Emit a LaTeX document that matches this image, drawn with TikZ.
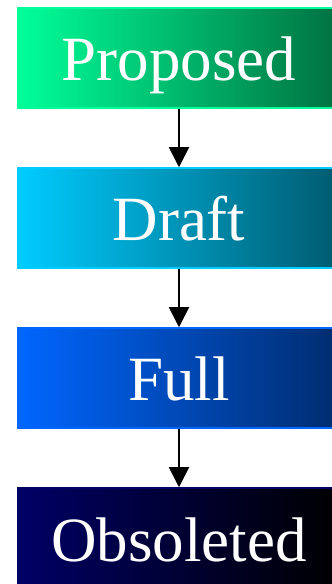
\documentclass[tikz,border=0pt]{standalone}
\usepackage{fontspec}
\setmainfont{Liberation Serif}
\usetikzlibrary{arrows.meta}

\definecolor{propL}{HTML}{00FF99}
\definecolor{propR}{HTML}{007040}
\definecolor{draftL}{HTML}{00CCFF}
\definecolor{draftR}{HTML}{005A6E}
\definecolor{fullL}{HTML}{0066FF}
\definecolor{fullR}{HTML}{002C6E}
\definecolor{obsL}{HTML}{000066}
\definecolor{obsR}{HTML}{000000}

\begin{document}
\begin{tikzpicture}[x=1pt,y=1pt,
  stagebox/.style={rectangle, minimum width=322pt, minimum height=100pt,
    inner sep=0pt, line width=1.5pt, text=white,
    font=\fontsize{63}{63}\selectfont, text height=52pt, text depth=6pt},
  flow/.style={line width=1.6pt, -{Triangle[width=20pt,length=20pt]}}]
\useasboundingbox (0,0) rectangle (332,584);
\clip (0,0) rectangle (332,584);

\node[stagebox, draw=propL, left color=propL, right color=propR]
  (prop) at (179,526) {Proposed};
\node[stagebox, draw=draftL, left color=draftL, right color=draftR]
  (draft) at (179,366) {Draft};
\node[stagebox, draw=fullL, left color=fullL, right color=fullR]
  (full) at (179,206) {Full};
\node[stagebox, draw=obsL, left color=obsL, right color=obsR]
  (obs) at (179,46) {Obsoleted};

\draw[flow] (prop.south) -- (draft.north);
\draw[flow] (draft.south) -- (full.north);
\draw[flow] (full.south) -- (obs.north);
\end{tikzpicture}
\end{document}
